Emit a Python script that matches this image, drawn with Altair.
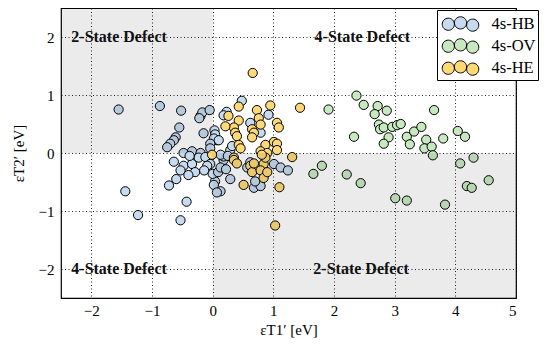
import altair as alt
import pandas as pd

# ---- data ----
hb_x = [-1.55, -0.87, -0.52, -0.20, -0.17, -0.05, -0.22, -0.55, -0.15, 0.03, 0.04, 0.07,
        -0.61, -0.64, -0.70, -0.75, -0.48, -0.34, -0.20, -0.23, -0.12, -0.04, -0.64, -0.48,
        -0.34, -0.09, -0.53, -0.60, -0.72, -0.29, -1.44, -0.43, -1.23, -0.53, 0.04, 0.02,
        0.13, 0.07, 0.29, 0.18, 0.57, 0.62, 0.68, 0.79, 0.70, 1.01, 1.12, 1.24,
        0.48, 0.23, 0.18, 0.92, 0.62, 0.02, 0.10, -0.04, -0.04, 0.29, 0.18, 0.13, 0.79,
        -0.38, -0.14, 0.00, 0.09, 0.13, -0.40, 0.22, 0.25, 0.32]
hb_y = [0.75, 0.81, 0.73, 0.64, 0.70, 0.74, 0.60, 0.44, 0.34, 0.39, 0.32, 0.22,
        0.27, 0.22, 0.16, 0.10, 0.00, 0.03, 0.00, -0.08, -0.07, -0.19, -0.15, -0.22,
        -0.19, -0.22, -0.30, -0.45, -0.56, -0.33, -0.66, -0.84, -1.07, -1.16, -0.49, -0.55,
        -0.66, -0.68, -0.45, -0.12, -0.25, -0.16, -0.60, -0.57, -0.49, -0.19, -0.25, -0.30,
        0.90, 0.71, 0.65, 0.66, 0.52, 0.25, 0.22, 0.16, 0.08, 0.05, -0.06, -0.03, 0.35,
        -0.05, -0.30, -0.36, -0.33, -0.25, -0.38, -0.28, -0.05, 0.12]

ov_x = [2.37, 2.49, 2.72, 2.87, 2.67, 3.65, 2.74, 2.76, 2.82, 2.96, 3.04, 3.10, 2.90,
        2.82, 2.33, 3.20, 3.25, 3.32, 3.44, 3.52, 3.49, 3.61, 3.63, 3.80, 4.04, 4.16,
        4.30, 1.91, 2.21, 2.44, 3.01, 3.20, 3.83, 4.08, 4.19, 4.27, 4.55, 1.66, 1.80]
ov_y = [0.99, 0.83, 0.81, 0.73, 0.67, 0.74, 0.49, 0.41, 0.44, 0.45, 0.48, 0.50, 0.27,
        0.16, 0.28, 0.28, 0.15, 0.37, 0.45, 0.23, 0.08, 0.11, -0.04, 0.25, 0.38, 0.28,
        -0.08, 0.75, -0.37, -0.52, -0.78, -0.82, -0.89, -0.18, -0.57, -0.60, -0.47, -0.36, -0.22]

he_x = [0.66, 1.44, 0.95, 0.73, 0.76, 0.43, 0.26, 0.43, 1.06, 1.09, 0.35, 0.21, 0.37,
        0.40, 0.65, 0.68, 0.65, 0.79, 0.43, 0.46, -0.01, 0.35, 0.87, 1.01, 1.06, 0.79,
        0.90, 1.06, 1.31, 0.35, 0.40, 0.51, 0.62, 0.65, 0.68, 0.84, 0.87, 0.81, 0.79,
        0.84, 0.90, 1.10, 1.03]
he_y = [1.38, 0.78, 0.82, 0.74, 0.60, 0.80, 0.64, 0.56, 0.52, 0.44, 0.44, 0.46, 0.35,
        0.29, 0.41, 0.35, 0.27, 0.49, 0.14, 0.08, -0.03, -0.08, 0.14, 0.19, 0.16, 0.03,
        0.00, 0.05, -0.07, -0.12, -0.18, -0.55, -0.22, -0.33, -0.18, -0.19, -0.08, -0.03,
        -0.30, -0.43, -0.33, -0.59, -1.25]

series = ["4s-HB", "4s-OV", "4s-HE"]
colors = ["#c6dbef", "#c7e9c0", "#fed976"]

x_ticks = [-2, -1, 0, 1, 2, 3, 4, 5]
y_ticks = [-2, -1, 0, 1, 2]

region_x = [-2.5, 0]
region_x2 = [0, 5]
region_y = [0, -2.5]
region_y2 = [2.5, 0]

label_text = ["2-State Defect", "4-State Defect", "4-State Defect", "2-State Defect"]
label_x = [-2.33, 1.68, -2.33, 1.66]
label_y = [2, 2, -2, -2]

# ---- tables ----
pts = pd.concat([
    pd.DataFrame({"x": hb_x, "y": hb_y, "s": series[0]}),
    pd.DataFrame({"x": ov_x, "y": ov_y, "s": series[1]}),
    pd.DataFrame({"x": he_x, "y": he_y, "s": series[2]}),
], ignore_index=True)
pts["o"] = range(len(pts))
regions = pd.DataFrame({"x": region_x, "x2": region_x2, "y": region_y, "y2": region_y2})
labels = pd.DataFrame({"t": label_text, "x": label_x, "y": label_y})

xscale = alt.Scale(domain=[-2.5, 5], nice=False, zero=False)
yscale = alt.Scale(domain=[-2.5, 2.5], nice=False, zero=False)

xaxis = alt.Axis(values=x_ticks, title="εT1′ [eV]", format="d")
yaxis = alt.Axis(values=y_ticks, title="εT2′ [eV]", format="d")

r = 0.53
def circ(cx, cy):
    return f"M{cx - r:.3f},{cy:.3f}a{r},{r} 0 1,0 {2*r},0a{r},{r} 0 1,0 {-2*r},0z"
legend_path = circ(-1.06, 0.02) + circ(0.0, -0.10) + circ(1.06, 0.10)

points = alt.Chart(pts).mark_circle(size=85, stroke="black", strokeWidth=1, opacity=1).encode(
    x=alt.X("x:Q", scale=xscale, axis=xaxis),
    y=alt.Y("y:Q", scale=yscale, axis=yaxis),
    color=alt.Color("s:N", scale=alt.Scale(domain=series, range=colors),
                    legend=alt.Legend(title=None, orient="none", legendX=376, legendY=2,
                                      symbolType=legend_path, symbolSize=529,
                                      symbolStrokeColor="black", symbolStrokeWidth=1,
                                      symbolOpacity=1, symbolOffset=9.5,
                                      labelOffset=19, labelFontSize=16.5,
                                      labelFont="Liberation Serif", labelColor="black",
                                      padding=2, rowPadding=0,
                                      strokeColor="black", fillColor="white",
                                      cornerRadius=0)),
    order=alt.Order("o:Q"),
)

shade = alt.Chart(regions).mark_rect(color="black", opacity=0.08).encode(
    x="x:Q", x2="x2", y="y:Q", y2="y2"
)

texts = alt.Chart(labels).mark_text(
    align="left", baseline="middle", font="Liberation Serif", fontSize=16,
    fontWeight="bold", color="#111111"
).encode(x="x:Q", y="y:Q", text="t:N")

chart = alt.layer(points, shade, texts).properties(
    width=455, height=290,
    autosize=alt.AutoSizeParams(type="none"),
    padding={"left": 53, "top": 0, "right": 27, "bottom": 46},
).configure_view(
    stroke="black", strokeWidth=1.2
).configure_axis(
    grid=True, gridColor="black", gridDash=[1, 2.5], gridWidth=1, gridOpacity=0.85,
    domain=False, ticks=False,
    labelFont="Liberation Serif", labelFontSize=15, labelColor="black",
    titleFont="Liberation Serif", titleFontSize=15, titleFontWeight="normal", titleColor="black",
).configure_axisX(
    labelPadding=5, titlePadding=4
).configure_axisY(
    labelPadding=7, titlePadding=12
)

chart.save("out.html", embed_options={"renderer": "svg", "actions": False})
